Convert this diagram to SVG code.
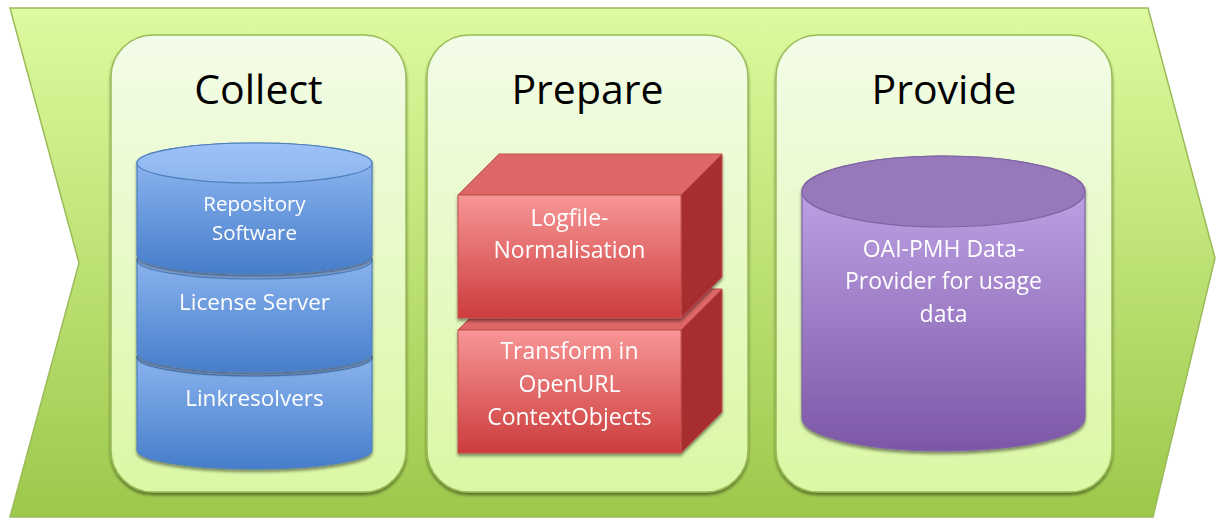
<svg xmlns="http://www.w3.org/2000/svg" width="1216" height="520" viewBox="0 0 1216 520">
<defs>
<linearGradient id="gChev" x1="0" y1="0" x2="0" y2="1"><stop offset="0" stop-color="#ddfb9f"/><stop offset="1" stop-color="#9dc84b"/></linearGradient>
<linearGradient id="gPanel" x1="0" y1="0" x2="0" y2="1"><stop offset="0" stop-color="#f3fce8"/><stop offset="1" stop-color="#daf8a4"/></linearGradient>
<linearGradient id="gBlue" x1="0" y1="0" x2="0" y2="1"><stop offset="0" stop-color="#94bcf4"/><stop offset="1" stop-color="#477dca"/></linearGradient>
<linearGradient id="gBlueTop" x1="0" y1="0" x2="0" y2="1"><stop offset="0" stop-color="#9cc2f8"/><stop offset="1" stop-color="#8db5ee"/></linearGradient>
<linearGradient id="gRed" x1="0" y1="0" x2="0" y2="1"><stop offset="0" stop-color="#f89696"/><stop offset="1" stop-color="#cc3c3c"/></linearGradient>
<linearGradient id="gPurple" x1="0" y1="0" x2="0" y2="1"><stop offset="0" stop-color="#c5abeb"/><stop offset="1" stop-color="#7c57a7"/></linearGradient>
<filter id="shadow" x="-5%" y="-5%" width="110%" height="115%"><feDropShadow dx="0" dy="2.5" stdDeviation="1.5" flood-color="#000" flood-opacity="0.45"/></filter>
</defs>
<style>
.title{font-family:"Open Sans","Liberation Sans",sans-serif;font-size:41px;fill:#000;text-anchor:middle}
.lbl{font-family:"Open Sans","Liberation Sans",sans-serif;fill:#fff;text-anchor:middle}
.panel{fill:url(#gPanel);stroke:#9bbb59;stroke-width:1.5}
.blue{fill:url(#gBlue);stroke:#4f81bd;stroke-width:1.2}
.bluetop{fill:url(#gBlueTop);stroke:#4f81bd;stroke-width:1.2}
.front{fill:url(#gRed);stroke:#c0504d;stroke-width:1}
.topf{fill:#de6666;stroke:#c0504d;stroke-width:1}
.side{fill:#a72f2f;stroke:#c0504d;stroke-width:1}
</style>
<g id="chevron">
<path d="M10,8 L1148,8 L1215,258 L1153,517 L10,517 L79,263 Z" fill="url(#gChev)" stroke="#9bbb59" stroke-width="1.5"/>
</g>
<g id="panel-collect">
<rect class="panel" x="111" y="35" width="295" height="457" rx="42" filter="url(#shadow)"/>
<text class="title" x="258.5" y="104">Collect</text>
</g>
<g id="panel-prepare">
<rect class="panel" x="427" y="35" width="321" height="457" rx="42" filter="url(#shadow)"/>
<text class="title" x="587.5" y="104">Prepare</text>
</g>
<g id="panel-provide">
<rect class="panel" x="776" y="35" width="336" height="457" rx="42" filter="url(#shadow)"/>
<text class="title" x="944" y="104">Provide</text>
</g>
<g id="node-linkresolvers" filter="url(#shadow)">
<path class="blue" d="M137,357 V450 A117.5,19 0 0 0 372,450 V357 A117.5,19 0 0 0 137,357 Z"/>
<ellipse class="bluetop" cx="254.5" cy="357" rx="117.5" ry="19"/>
<text class="lbl" x="254.5" y="406" font-size="22.5">Linkresolvers</text>
</g>
<g id="node-license" filter="url(#shadow)">
<path class="blue" d="M137,260 V353 A117.5,19 0 0 0 372,353 V260 A117.5,19 0 0 0 137,260 Z"/>
<ellipse class="bluetop" cx="254.5" cy="260" rx="117.5" ry="19"/>
<text class="lbl" x="254.5" y="310" font-size="22.5">License Server</text>
</g>
<g id="node-repository" filter="url(#shadow)">
<path class="blue" d="M137,163 V255 A117.5,19 0 0 0 372,255 V163 A117.5,20 0 0 0 137,163 Z"/>
<ellipse class="bluetop" cx="254.5" cy="163" rx="117.5" ry="20"/>
<text class="lbl" x="254.5" y="211" font-size="20.5">Repository</text>
<text class="lbl" x="254.5" y="240" font-size="20.5">Software</text>
</g>
<g id="node-transform" filter="url(#shadow)">
<polygon class="topf" points="458,330 499,289 722,289 681,330"/>
<polygon class="side" points="681,330 722,289 722,412 681,453"/>
<rect class="front" x="458" y="330" width="223" height="123"/>
<text class="lbl" x="569.5" y="359" font-size="23">Transform in</text>
<text class="lbl" x="569.5" y="392" font-size="23">OpenURL</text>
<text class="lbl" x="569.5" y="425" font-size="23">ContextObjects</text>
</g>
<g id="node-logfile" filter="url(#shadow)">
<polygon class="topf" points="458,195 499,154 722,154 681,195"/>
<polygon class="side" points="681,195 722,154 722,277 681,318"/>
<rect class="front" x="458" y="195" width="223" height="123"/>
<text class="lbl" x="569.5" y="226" font-size="23">Logfile-</text>
<text class="lbl" x="569.5" y="258" font-size="23">Normalisation</text>
</g>
<g id="node-oai" filter="url(#shadow)">
<path d="M802,191.5 V418 A141.5,33 0 0 0 1085,418 V191.5 A141.5,35.5 0 0 0 802,191.5 Z" fill="url(#gPurple)" stroke="#8064a2" stroke-width="1.2"/>
<ellipse cx="943.5" cy="191.5" rx="141.5" ry="35.5" fill="#9579bb" stroke="#8064a2" stroke-width="1.2"/>
<text class="lbl" x="943.5" y="257" font-size="23">OAI-PMH Data-</text>
<text class="lbl" x="943.5" y="289" font-size="23">Provider for usage</text>
<text class="lbl" x="943.5" y="322" font-size="23">data</text>
</g>
<g id="connectors"/>
</svg>
